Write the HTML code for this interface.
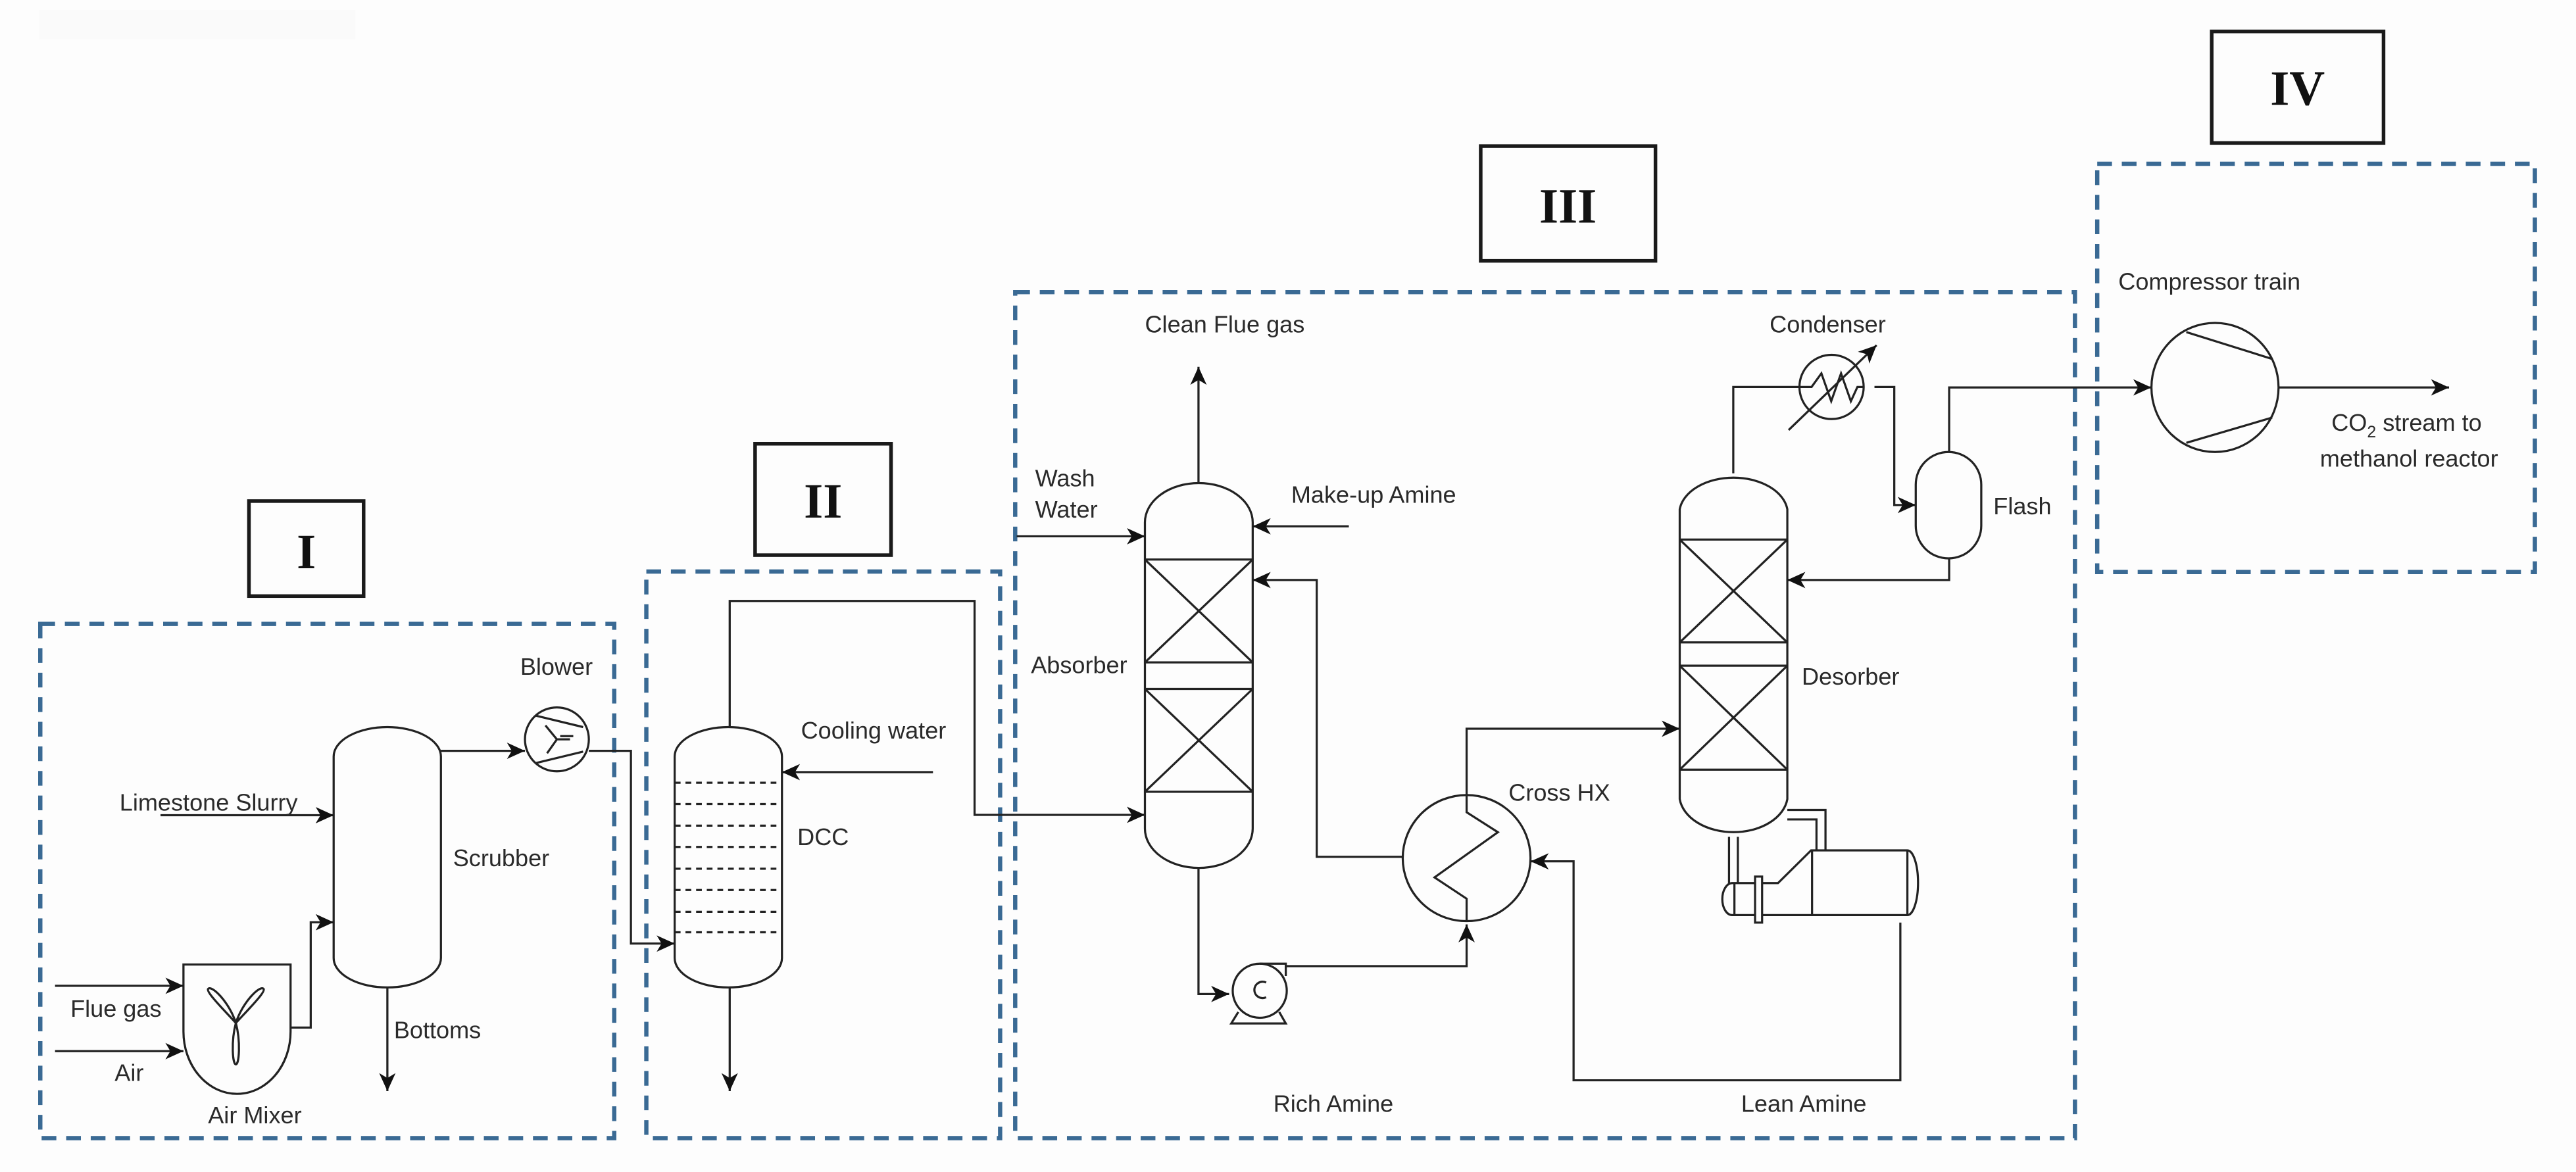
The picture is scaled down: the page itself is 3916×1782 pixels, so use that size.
<!DOCTYPE html>
<html><head><meta charset="utf-8"><style>
html,body{margin:0;padding:0;background:#fdfdfd;}
svg{display:block;}
text{font-family:"Liberation Sans",Arial,sans-serif;font-size:14.5px;fill:#2a2a2a;}
.rn{font-family:"Liberation Serif",serif;font-weight:bold;font-size:30px;fill:#111;}
</style></head><body>
<svg width="3916" height="1782" viewBox="0 0 1572.7 715.7" preserveAspectRatio="none" xmlns="http://www.w3.org/2000/svg">
<defs>
<marker id="a" markerUnits="userSpaceOnUse" markerWidth="12" markerHeight="12" refX="11" refY="6" orient="auto"><path d="M0,1 L11,6 L0,11 L3,6 Z" fill="#111"/></marker>
</defs>
<rect x="0" y="0" width="1572.7" height="715.7" fill="#fdfdfd"/>
<rect x="24" y="6" width="193" height="18" fill="#fafafa"/>
<g fill="none" stroke="#3a6a94" stroke-width="2.6" stroke-dasharray="9,6">
<rect x="24.6" y="381" width="350.4" height="314"/>
<rect x="394.6" y="349" width="216" height="346"/>
<rect x="619.8" y="178.4" width="647" height="516.6"/>
<rect x="1280.4" y="100" width="267.2" height="249.3"/>
</g>
<g fill="none" stroke="#1a1a1a" stroke-width="2.2">
<rect x="152" y="306" width="70" height="58"/>
<rect x="461" y="271" width="83" height="68"/>
<rect x="904" y="89.2" width="106.7" height="70.1"/>
<rect x="1350.3" y="19.2" width="104.9" height="68.1"/>
</g>
<text class="rn" x="187" y="347" text-anchor="middle">I</text>
<text class="rn" x="502.5" y="316" text-anchor="middle">II</text>
<text class="rn" x="957.3" y="136" text-anchor="middle">III</text>
<text class="rn" x="1402.7" y="64" text-anchor="middle">IV</text>

<g fill="none" stroke="#222" stroke-width="1.3">
<path d="M203.7,462 A32.75,18 0 0 1 269.2,462 V585 A32.75,18 0 0 1 203.7,585 Z"/>
<line x1="98" y1="497.8" x2="203.7" y2="497.8" marker-end="url(#a)"/>
<path d="M112,589 H177.4 V630 A32.7,38 0 0 1 112,630 Z"/>
<path d="M144,624.7 C136,616 126,606 127,604 C129,601 140,612 144,624.7 Z"/>
<path d="M144,624.7 C148,612 159,601 161,604 C162,606 152,616 144,624.7 Z"/>
<path d="M144,624.7 C147,636 146,650 144,650 C142,650 141,636 144,624.7 Z"/>
<line x1="33.6" y1="602" x2="112" y2="602" marker-end="url(#a)"/>
<line x1="33.6" y1="641.9" x2="112" y2="641.9" marker-end="url(#a)"/>
<polyline points="177.4,627.5 189.7,627.5 189.7,563.2 203.7,563.2" marker-end="url(#a)"/>
<line x1="236.5" y1="602.5" x2="236.5" y2="666.3" marker-end="url(#a)"/>
<circle cx="340" cy="451.5" r="19.5"/>
<line x1="327" y1="437" x2="356" y2="444"/><line x1="327" y1="466" x2="356" y2="459"/>
<path d="M340,451.5 L333,443 M340,451.5 L334,460 M340,451.5 L348,451.5 M342,449.5 L350,449.5"/>
<line x1="269.2" y1="458.5" x2="320.5" y2="458.5" marker-end="url(#a)"/>
<polyline points="359.5,458.5 385.2,458.5 385.2,576.2 411.9,576.2" marker-end="url(#a)"/>
<path d="M411.9,462 A32.75,18 0 0 1 477.4,462 V585 A32.75,18 0 0 1 411.9,585 Z"/>
<g stroke-dasharray="3.5,3">
<line x1="412" y1="478" x2="477" y2="478"/><line x1="412" y1="491" x2="477" y2="491"/>
<line x1="412" y1="504.2" x2="477" y2="504.2"/><line x1="412" y1="517.2" x2="477" y2="517.2"/>
<line x1="412" y1="530.5" x2="477" y2="530.5"/><line x1="412" y1="543.5" x2="477" y2="543.5"/>
<line x1="412" y1="556.8" x2="477" y2="556.8"/><line x1="412" y1="569.3" x2="477" y2="569.3"/>
</g>
<line x1="569.6" y1="471.5" x2="477.4" y2="471.5" marker-end="url(#a)"/>
<line x1="445.5" y1="602.5" x2="445.5" y2="666.3" marker-end="url(#a)"/>
<polyline points="445.5,444 445.5,367 595,367 595,497.6 699,497.6" marker-end="url(#a)"/>
<path d="M699,319 A32.9,24 0 0 1 764.8,319 V506 A32.9,24 0 0 1 699,506 Z"/>
<line x1="699" y1="341.7" x2="764.8" y2="341.7"/><line x1="699" y1="404.5" x2="764.8" y2="404.5"/>
<line x1="699" y1="420.7" x2="764.8" y2="420.7"/><line x1="699" y1="483.5" x2="764.8" y2="483.5"/>
<path d="M699,341.7 L764.8,404.5 M764.8,341.7 L699,404.5 M699,420.7 L764.8,483.5 M764.8,420.7 L699,483.5"/>
<line x1="731.7" y1="295" x2="731.7" y2="224" marker-end="url(#a)"/>
<line x1="620.7" y1="327.5" x2="699" y2="327.5" marker-end="url(#a)"/>
<line x1="823.5" y1="321.4" x2="764.8" y2="321.4" marker-end="url(#a)"/>
<polyline points="856.2,523.2 803.9,523.2 803.9,354.2 764.8,354.2" marker-end="url(#a)"/>
<polyline points="731.7,530 731.7,607 750.4,607" marker-end="url(#a)"/>
<circle cx="769.1" cy="605" r="16.5"/>
<path d="M769.1,588.5 H785 V596"/>
<path d="M773,600 A5,5 0 1 0 773,609"/>
<path d="M756,618 L751.7,625 H785 L781,618"/>
<polyline points="785,590 895.4,590 895.4,564.5" marker-end="url(#a)"/>
<ellipse cx="895.4" cy="524" rx="39" ry="38.5"/>
<polyline points="895.4,562.5 895.4,548.8 875.8,535.8 914.5,508.2 895.4,496 895.4,445 1025.5,445" marker-end="url(#a)"/>
<polyline points="1160.2,563.4 1160.2,659.7 960.7,659.7 960.7,526 934.5,526" marker-end="url(#a)"/>
<path d="M1025.5,311 A33.1,22 0 0 1 1091.2,311 V488 A33.1,23 0 0 1 1025.5,488 Z"/>
<line x1="1025.5" y1="329.5" x2="1091.2" y2="329.5"/><line x1="1025.5" y1="392.3" x2="1091.2" y2="392.3"/>
<line x1="1025.5" y1="406.5" x2="1091.2" y2="406.5"/><line x1="1025.5" y1="470" x2="1091.2" y2="470"/>
<path d="M1025.5,329.5 L1091.2,392.3 M1091.2,329.5 L1025.5,392.3 M1025.5,406.5 L1091.2,470 M1091.2,406.5 L1025.5,470"/>
<path d="M1055.6,511 V539.3 M1061,511 V539.3"/>
<path d="M1091.2,494.6 H1114.5 V519.3 M1091.2,500.4 H1109 V519.3"/>
<path d="M1057.5,539.3 H1085.5 L1105.7,519.3 H1164.5 A6.5,19.75 0 0 1 1164.5,558.8 H1057.5 A6,9.75 0 0 1 1057.5,539.3 Z"/>
<line x1="1106.3" y1="519.3" x2="1106.3" y2="558.8"/><line x1="1164.5" y1="519.3" x2="1164.5" y2="558.8"/>
<line x1="1058.9" y1="539.3" x2="1058.9" y2="558.8"/>
<rect x="1071.5" y="535.3" width="4.3" height="28.1" fill="#fdfdfd"/>
<polyline points="1058.2,289 1058.2,236.3 1098.6,236.3"/>
<circle cx="1118.2" cy="236.3" r="19.6"/>
<polyline points="1098.6,236.3 1106,236.3 1112,228 1118,245 1124,228 1130,245 1134,236.3 1137.8,236.3"/>
<line x1="1092" y1="262.6" x2="1145.7" y2="210.8" marker-end="url(#a)"/>
<polyline points="1144.4,236.3 1156.5,236.3 1156.5,308.4 1169.6,308.4" marker-end="url(#a)"/>
<path d="M1169.6,296 A20,20 0 0 1 1209.6,296 V321 A20,20 0 0 1 1169.6,321 Z"/>
<polyline points="1190,340.8 1190,354.2 1091.2,354.2" marker-end="url(#a)"/>
<polyline points="1190,276 1190,236.6 1313.4,236.6" marker-end="url(#a)"/>
<ellipse cx="1352.3" cy="236.6" rx="38.8" ry="39.4"/>
<line x1="1334.8" y1="202.8" x2="1387.2" y2="219.2"/>
<line x1="1334.8" y1="270.4" x2="1387.2" y2="255"/>
<line x1="1391.1" y1="236.6" x2="1495.2" y2="236.6" marker-end="url(#a)"/>
</g>

<text x="73" y="495">Limestone Slurry</text>
<text x="43" y="621">Flue gas</text>
<text x="70" y="660">Air</text>
<text x="127" y="686">Air Mixer</text>
<text x="240.5" y="634">Bottoms</text>
<text x="276.6" y="529">Scrubber</text>
<text x="317.6" y="412">Blower</text>
<text x="489" y="451">Cooling water</text>
<text x="486.8" y="516">DCC</text>
<text x="699" y="203">Clean Flue gas</text>
<text x="632" y="297">Wash</text>
<text x="632" y="316">Water</text>
<text x="788.3" y="307">Make-up Amine</text>
<text x="629.4" y="411">Absorber</text>
<text x="921" y="489">Cross HX</text>
<text x="777.4" y="679">Rich Amine</text>
<text x="1063" y="679">Lean Amine</text>
<text x="1100" y="418">Desorber</text>
<text x="1080.4" y="203">Condenser</text>
<text x="1217" y="314">Flash</text>
<text x="1293.3" y="177">Compressor train</text>
<text x="1423.4" y="263">CO<tspan font-size="10" dy="4">2</tspan><tspan dy="-4"> stream to</tspan></text>
<text x="1416.4" y="285">methanol reactor</text>
</svg>
</body></html>
